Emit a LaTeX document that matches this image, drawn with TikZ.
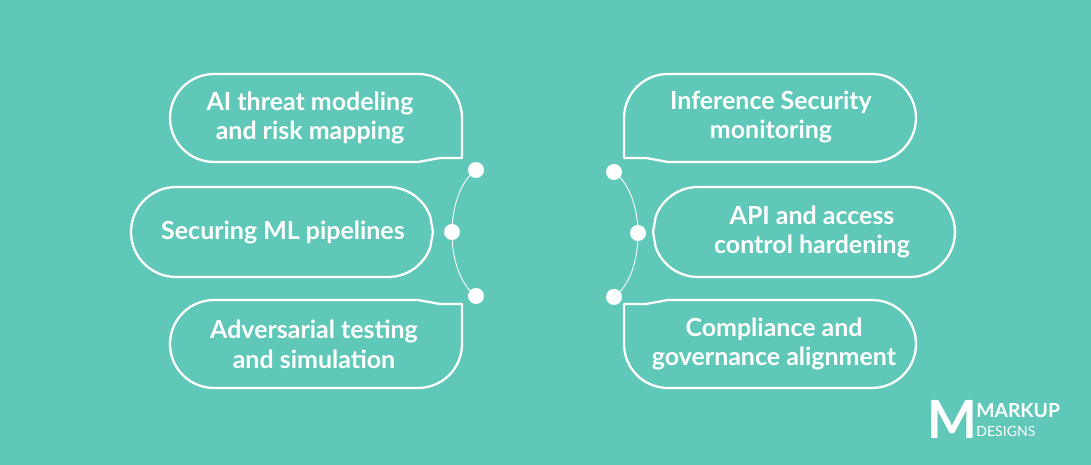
\documentclass[tikz,border=0pt]{standalone}
\usepackage{fontspec}
\setmainfont{Lato}
\usetikzlibrary{calc}
\definecolor{bg}{HTML}{5FC8B8}
\begin{document}
\begin{tikzpicture}[x=0.02cm,y=0.02cm,
  bub/.style={draw=white,line width=1.3pt,line join=round},
  lab/.style={text=white,font=\fontsize{14.2}{17}\selectfont\bfseries,align=center},
  dot/.style={circle,fill=white,inner sep=0pt,minimum size=0.32cm}]
\fill[bg] (0,0) rectangle (1091,465);
\useasboundingbox (0,0) rectangle (1091,465);
% left bubbles
\draw[bub] (214,391) -- (418,391) arc (90:0:0.88cm) -- (462,307) -- (440,307) -- (418,303) -- (214,303) arc (270:90:0.88cm) -- cycle;
\draw[bub] (176,278) -- (388,278) arc (90:20:0.9cm) -- (433,233) -- ($(388,233)+(-20:0.9cm)$) arc (-20:-90:0.9cm) -- (176,188) arc (270:90:0.9cm) -- cycle;
\draw[bub] (214,77) -- (418,77) arc (-90:0:0.88cm) -- (462,161) -- (440,161) -- (418,165) -- (214,165) arc (90:270:0.88cm) -- cycle;
% right bubbles
\draw[bub] (872,391) -- (668,391) arc (90:180:0.88cm) -- (624,307) -- (646,307) -- (668,303) -- (872,303) arc (-90:90:0.88cm) -- cycle;
\draw[bub] (910,278) -- (698,278) arc (90:160:0.9cm) -- (653,233) -- ($(698,233)+(200:0.9cm)$) arc (200:270:0.9cm) -- (910,188) arc (-90:90:0.9cm) -- cycle;
\draw[bub] (872,77) -- (668,77) arc (270:180:0.88cm) -- (624,161) -- (646,161) -- (668,165) -- (872,165) arc (90:-90:0.88cm) -- cycle;
% dots and arcs
\coordinate (l1) at (476,295);
\coordinate (l3) at (476,169);
\coordinate (r1) at (614,293);
\coordinate (r3) at (614,168);
\draw[white,line width=0.5pt] (l1) .. controls (444,272) and (444,192) .. (l3);
\draw[white,line width=0.5pt] (r1) .. controls (646,270) and (646,191) .. (r3);
\node[dot] (d1) at (l1) {};
\node[dot] (d2) at (452,233) {};
\node[dot] (d3) at (l3) {};
\node[dot] (e1) at (r1) {};
\node[dot] (e2) at (638,232) {};
\node[dot] (e3) at (r3) {};
% labels
\node[lab] (t1) at (310,347) {AI threat modeling\\and risk mapping};
\node[lab] (t2) at (283,233) {Securing ML pipelines};
\node[lab] (t3) at (314,121) {Adversarial testing\\and simulation};
\node[lab] (t4) at (771,348) {Inference Security\\monitoring};
\node[lab] (t5) at (812,233) {API and access\\control hardening};
\node[lab] (t6) at (774,121) {Compliance and\\governance alignment};
% logo
\node[text=white,font=\fontsize{30}{30}\selectfont\bfseries,inner sep=0pt] (m) at (952,46) {M};
\node[text=white,anchor=west,align=left,inner sep=0pt] (mk) at (976,45) {{\fontsize{11}{11}\selectfont\bfseries MARKUP}\\[-1pt]{\fontsize{8}{9}\selectfont DESIGNS}};
\end{tikzpicture}
\end{document}
